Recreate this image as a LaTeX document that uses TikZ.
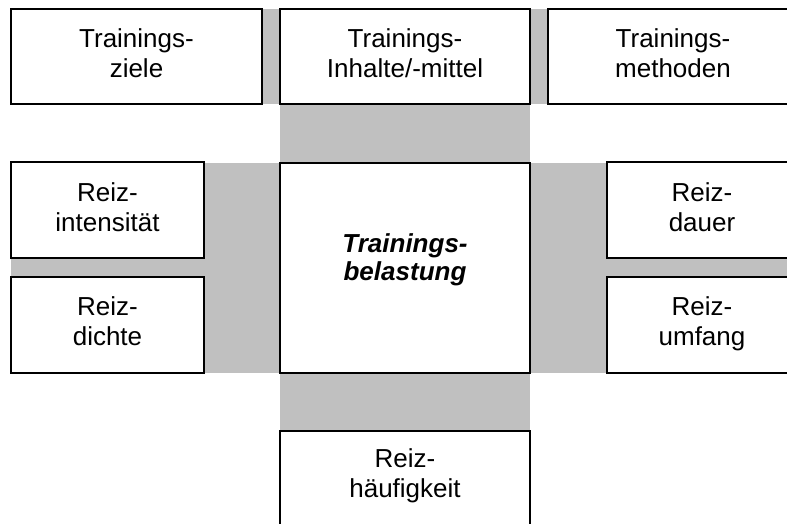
\documentclass[tikz,border=0pt]{standalone}
\usepackage{fontspec}
\setmainfont{Liberation Sans}
\definecolor{bandgray}{HTML}{C0C0C0}
\begin{document}
\begin{tikzpicture}[x=1pt,y=-1pt,
  box/.style={draw=black, line width=1.5pt, fill=white, inner sep=0pt},
  lbl/.style={align=center, inner sep=0pt, font=\fontsize{26}{30}\selectfont},
  lblbold/.style={lbl, font=\fontsize{26}{28}\selectfont\bfseries\itshape}]
\useasboundingbox (0,0) rectangle (787,524);
\clip (0,0) rectangle (787,524);
% grey bands behind the boxes
\fill[bandgray] (262,9) rectangle (548,104);
\fill[bandgray] (280,104) rectangle (530,431);
\fill[bandgray] (11,162.5) rectangle (800,373);
% boxes
\node[box, minimum width=251, minimum height=95] (z) at (136.5,56.5) {};
\node[box, minimum width=250, minimum height=95] (i) at (405,56.5) {};
\node[box, minimum width=250, minimum height=95] (m) at (673,56.5) {};
\node[box, minimum width=193, minimum height=96] (ri) at (107.5,210) {};
\node[box, minimum width=193, minimum height=96] (rd) at (107.5,325) {};
\node[box, minimum width=190, minimum height=96] (rdu) at (702,210) {};
\node[box, minimum width=190, minimum height=96] (ru) at (702,325) {};
\node[box, minimum width=250, minimum height=210] (c) at (405,268) {};
\node[box, minimum width=250, minimum height=95] (h) at (405,478.5) {};
% labels
\node[lbl] (tz) at (136.5,53) {Trainings-\\ziele};
\node[lbl] (ti) at (405,53) {Trainings-\\Inhalte/-mittel};
\node[lbl] (tm) at (673,53) {Trainings-\\methoden};
\node[lbl] (tri) at (107.5,207) {Reiz-\\intensität};
\node[lbl] (trd) at (107.5,321) {Reiz-\\dichte};
\node[lbl] (trdu) at (702,207) {Reiz-\\dauer};
\node[lbl] (tru) at (702,324) {Reiz-\\umfang};
\node[lblbold] (tc) at (405,260) {Trainings-\\belastung};
\node[lbl] (th) at (405,476) {Reiz-\\häufigkeit};
\end{tikzpicture}
\end{document}
